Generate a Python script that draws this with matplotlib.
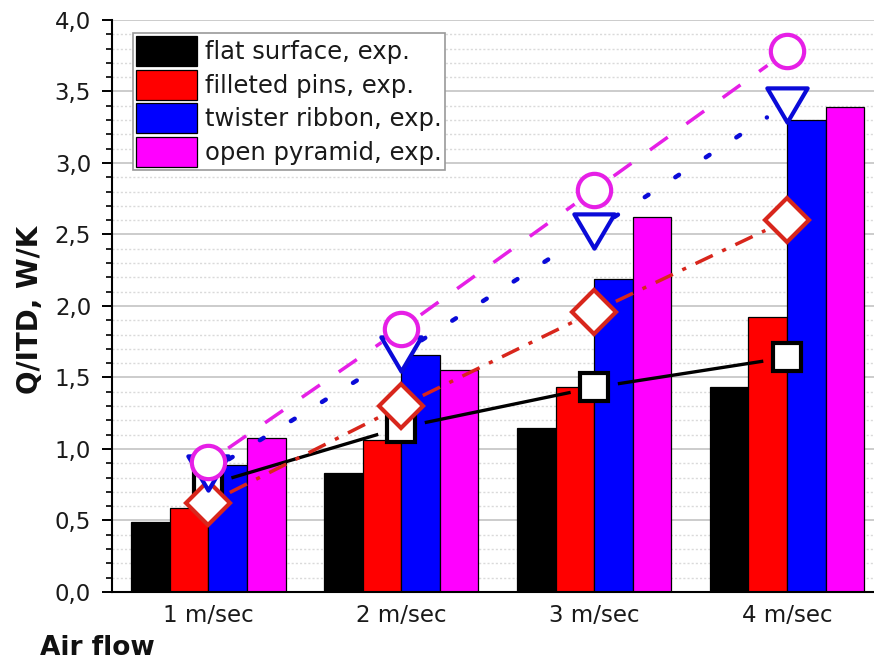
import numpy as np
import matplotlib
matplotlib.use("Agg")
import matplotlib.pyplot as plt
from matplotlib.ticker import MultipleLocator, FuncFormatter
from matplotlib.path import Path

# Air flow categories and measured conductance (bars)
speeds = ["1 m/sec", "2 m/sec", "3 m/sec", "4 m/sec"]
flat_bar = [0.49, 0.83, 1.15, 1.43]
fillet_bar = [0.59, 1.06, 1.43, 1.92]
ribbon_bar = [0.89, 1.66, 2.19, 3.30]
pyramid_bar = [1.08, 1.55, 2.62, 3.39]

# Values shown as symbols joined by lines
flat_pts = [0.75, 1.15, 1.43, 1.64]
fillet_pts = [0.62, 1.30, 1.96, 2.60]
ribbon_pts = [0.84, 1.67, 2.53, 3.41]
pyramid_pts = [0.91, 1.84, 2.81, 3.78]

labels = ["flat surface, exp.", "filleted pins, exp.",
          "twister ribbon, exp.", "open pyramid, exp."]

fig = plt.figure(figsize=(8.74, 6.65), dpi=100)
ax = fig.add_axes([0.1281, 0.1098, 0.8827, 0.8602])

x = np.arange(1, len(speeds) + 1)
w = 0.2
bar_cols = ["#000000", "#ff0000", "#0000ff", "#ff00ff"]
for i, (vals, col, lab) in enumerate(zip(
        [flat_bar, fillet_bar, ribbon_bar, pyramid_bar], bar_cols, labels)):
    ax.bar(x + (i - 1.5) * w, vals, width=w, color=col, edgecolor="black",
           linewidth=0.9, label=lab, zorder=2)

ax.set_xlim(0.5, 4.5)
ax.set_ylim(0, 4.0)

# grid
ax.yaxis.set_major_locator(MultipleLocator(0.5))
ax.yaxis.set_minor_locator(MultipleLocator(0.1))
ax.grid(axis="y", which="major", color="#c4c4c4", linewidth=1.2, zorder=0)
ax.grid(axis="y", which="minor", color="#dadada", linewidth=1.0,
        linestyle=(0, (1.5, 1.5)), zorder=0)
ax.set_axisbelow(True)

ax.yaxis.set_major_formatter(FuncFormatter(lambda v, p: f"{v:.1f}".replace(".", ",")))
ax.set_xticks(x)
ax.set_xticklabels(speeds)
ax.tick_params(axis="x", length=0, pad=9, labelsize=16.5, colors="#1a1a1a")
ax.tick_params(axis="y", which="major", direction="out", length=7, width=1.4,
               pad=8, labelsize=16.5, labelcolor="#1a1a1a")
ax.tick_params(axis="y", which="minor", direction="out", length=4, width=1.2)
for s in ["top", "right"]:
    ax.spines[s].set_visible(False)
ax.spines["left"].set_linewidth(1.5)
ax.spines["bottom"].set_linewidth(1.5)

# wide down-triangle
tri = Path([(-1, 0.8), (1, 0.8), (0, -0.9), (-1, 0.8)],
           [Path.MOVETO, Path.LINETO, Path.LINETO, Path.CLOSEPOLY])

series = [
    (flat_pts, "#000000", "-", 2.4, "s", 20),
    (fillet_pts, "#d8261c", (0, (5.5, 3, 1.2, 3)), 2.5, "D", 22),
    (ribbon_pts, "#0a0ad8", (0, (1.0, 7.2)), 3.2, tri, 29),
    (pyramid_pts, "#e61fe6", (0, (6.3, 6.6)), 2.5, "o", 24),
]

fig.canvas.draw()
gap = 24  # pixels left clear between a symbol and its line
for vals, col, ls, lw, mk, ms in series:
    disp = ax.transData.transform(np.column_stack([x, vals]))
    for a, b in zip(disp[:-1], disp[1:]):
        d = b - a
        u = d / np.hypot(*d)
        seg = ax.transData.inverted().transform([a + u * gap, b - u * gap])
        ax.plot(seg[:, 0], seg[:, 1], color=col, linestyle=ls, linewidth=lw,
                zorder=3, solid_capstyle="butt",
                dash_capstyle="round" if mk is tri else "butt")
for vals, col, ls, lw, mk, ms in series:
    ax.plot(x, vals, linestyle="none", marker=mk, markersize=ms,
            markerfacecolor="white", markeredgecolor=col, markeredgewidth=3,
            zorder=4, clip_on=False)

leg = ax.legend(loc="upper left", bbox_to_anchor=(133 / 874, 1 - 33 / 665),
                bbox_transform=fig.transFigure, borderaxespad=0,
                fontsize=17.5, handlelength=2.5, handleheight=1.52,
                handletextpad=0.35, labelspacing=0.15, borderpad=0.12,
                fancybox=False, framealpha=1, edgecolor="#999999")
leg.get_frame().set_linewidth(1.2)
for t in leg.get_texts():
    t.set_color("#1a1a1a")

fig.text(30 / 874, 1 - 310 / 665, "Q/ITD, W/K", rotation=90, ha="center",
         va="center", fontsize=20, fontweight="bold", color="#111111")
fig.text(40 / 874, 1 - 648 / 665, "Air flow", ha="left", va="center",
         fontsize=19, fontweight="bold", color="#111111")

fig.savefig("out.png", dpi=100)
